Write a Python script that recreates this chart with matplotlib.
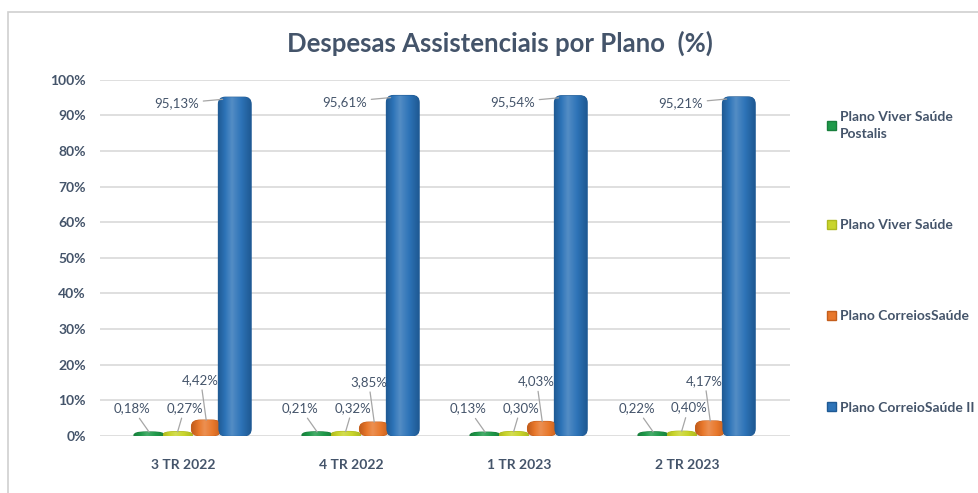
import numpy as np
import matplotlib
matplotlib.use('Agg')
import matplotlib.pyplot as plt
from matplotlib.patches import Rectangle, FancyBboxPatch, Patch
from matplotlib.colors import LinearSegmentedColormap, to_rgb

plt.rcParams['font.family'] = ['Lato', 'DejaVu Sans']

quarters = ['3 TR 2022', '4 TR 2022', '1 TR 2023', '2 TR 2023']
plans = ['Plano Viver Saúde\nPostalis', 'Plano Viver Saúde',
         'Plano CorreiosSaúde', 'Plano CorreioSaúde II']
viver_postalis = [0.18, 0.21, 0.13, 0.22]
viver = [0.27, 0.32, 0.30, 0.40]
correios = [4.42, 3.85, 4.03, 4.17]
correios_ii = [95.13, 95.61, 95.54, 95.21]

colors = ['#1f9a4a', '#c9d52c', '#e8782c', '#2e74b8']
edges = ['#187f3c', '#aeb91f', '#c45e1c', '#1f5a94']
text_col = '#44546a'
grid_col = '#d9d9d9'
lead_col = '#a6a6a6'

series = [viver_postalis, viver, correios, correios_ii]
offsets = [-0.255, -0.085, 0.085, 0.255]
widths = [0.18, 0.175, 0.175, 0.195]
# corner radius in px (x, y) per series
radii = [(12, 3.2), (12, 3.2), (9, 6), (7, 7)]
# label offsets (points) for each series
lab_off = [(-12, 17), (5, 17), (-4, 29), (-33, -3)]


def lighten(c, f):
    r = np.array(to_rgb(c))
    return tuple(r + (1 - r) * f)


def shade(ax, patch, x0, x1, y0, y1, base, dark):
    cmap = LinearSegmentedColormap.from_list(
        'sh', [(0, dark), (0.22, base), (0.42, lighten(base, 0.18)),
               (0.7, base), (1, dark)])
    im = ax.imshow(np.linspace(0, 1, 64)[None, :], cmap=cmap, aspect='auto',
                   extent=(x0, x1, y0, y1), interpolation='bilinear', zorder=3.1)
    im.set_clip_path(patch)


fig = plt.figure(figsize=(9.79, 4.93), dpi=100)
ax = fig.add_axes([0.102, 0.116, 0.705, 0.722])

# px per data unit
px_x = 0.705 * 979 / (3.56 + 0.548)
px_y = 0.722 * 493 / 100.0

x = np.arange(len(quarters))
for i, vals in enumerate(series):
    rx = radii[i][0] / px_x
    ry = radii[i][1] / px_y
    asp = ry / rx
    bars = ax.bar(x + offsets[i], vals, width=widths[i], color=colors[i])
    for b, v in zip(bars, vals):
        b.set_visible(False)
        if i >= 2:
            # rounded corners inside the bar
            rb = FancyBboxPatch((b.get_x(), 0), b.get_width(), v,
                                boxstyle=f'round,pad=0,rounding_size={rx}',
                                mutation_aspect=asp)
            top = v
            bot = 0
        else:
            # tiny value: flat pill around the bar
            rb = FancyBboxPatch((b.get_x() + rx, 0), b.get_width() - 2 * rx, v,
                                boxstyle=f'round,pad={rx}', mutation_aspect=asp)
            top = v + ry
            bot = -ry
        rb.set(facecolor=colors[i], edgecolor=edges[i], linewidth=0.8, zorder=3)
        ax.add_patch(rb)
        shade(ax, rb, b.get_x(), b.get_x() + b.get_width(), bot, top,
              colors[i], edges[i])
        lbl = f'{v:.2f}%'.replace('.', ',')
        if i == 3:
            xy = (b.get_x() + rx * 0.6, top - ry * 0.3)
        else:
            xy = (b.get_x() + b.get_width() / 2, top)
        ax.annotate(lbl, xy=xy, xytext=lab_off[i], textcoords='offset points',
                    ha='center', va='center', fontsize=9.5, color=text_col,
                    arrowprops=dict(arrowstyle='-', color=lead_col, lw=0.9,
                                    shrinkA=1, shrinkB=0),
                    zorder=4)

ax.set_xlim(-0.548, 3.56)
ax.set_ylim(0, 100)
ax.set_yticks(np.arange(0, 101, 10))
ax.set_yticklabels([f'{t}%' for t in range(0, 101, 10)])
ax.set_xticks(x - 0.05)
ax.set_xticklabels(quarters)
ax.tick_params(axis='both', length=0, labelcolor=text_col, labelsize=10)
ax.tick_params(axis='y', pad=10)
ax.tick_params(axis='x', pad=17)
for lab in ax.get_xticklabels() + ax.get_yticklabels():
    lab.set_fontweight('bold')
ax.grid(axis='y', color=grid_col, linewidth=1.2, zorder=0)
for s in ax.spines.values():
    s.set_visible(False)

fig.text(0.511, 0.913, 'Despesas Assistenciais por Plano  (%)', ha='center',
         va='center', fontsize=18.5, fontweight='bold', color=text_col)

handles = [Patch(facecolor=c, edgecolor=e) for c, e in zip(colors, edges)]
leg = fig.legend(handles, plans, loc='upper left', bbox_to_anchor=(0.832, 0.8),
                 frameon=False, handlelength=0.65, handleheight=0.65,
                 handletextpad=0.3, labelspacing=5.7,
                 prop={'weight': 'bold', 'size': 10})
for t in leg.get_texts():
    t.set_color(text_col)
    t.set_linespacing(1.5)

# outer border of the chart box
fig.patches.append(Rectangle((8 / 979, -0.1), 1.1, 1.1 - 12 / 493,
                             transform=fig.transFigure, fill=False,
                             edgecolor='#d0d0d0', linewidth=1.2))

fig.savefig('out.png', dpi=100)
